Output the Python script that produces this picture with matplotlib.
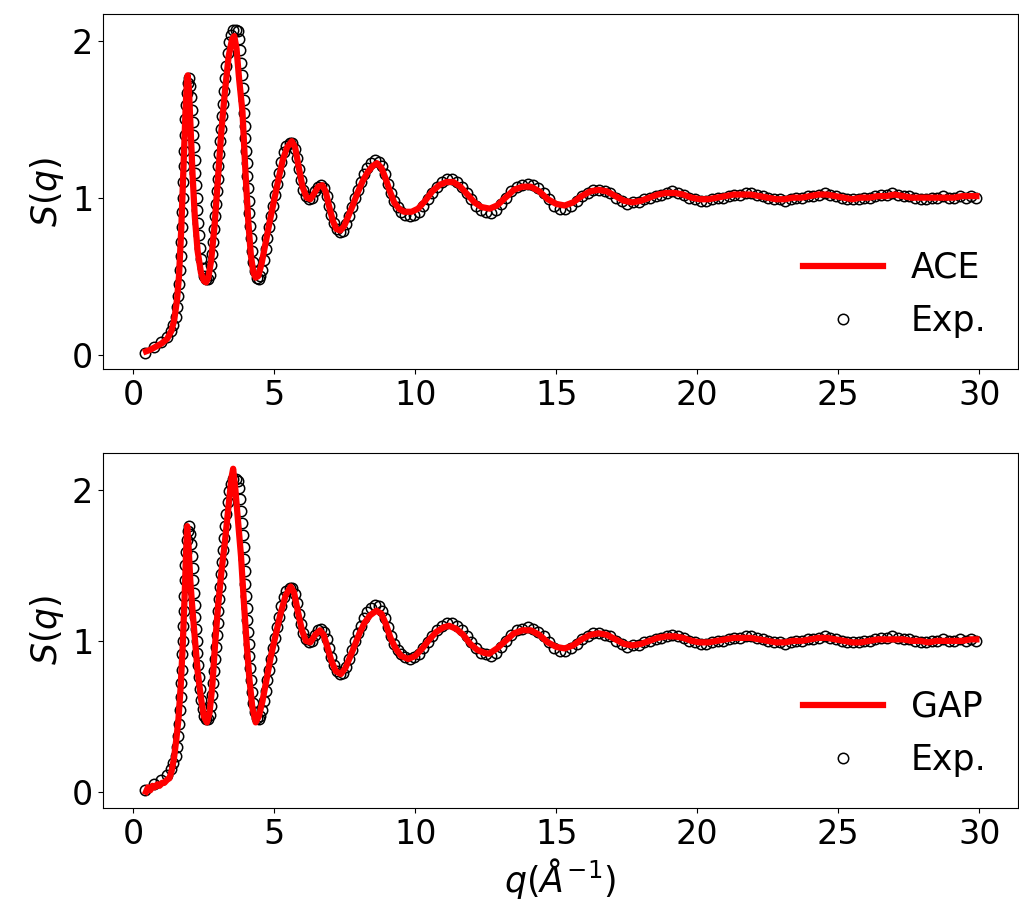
import matplotlib
matplotlib.use('Agg')
import matplotlib.pyplot as plt
import numpy as np

# Experimental S(q), digitised: (q, S)
exp_points = [
    (0.40, 0.01), (0.72, 0.05), (0.98, 0.08), (1.18, 0.11), (1.32, 0.15), (1.42, 0.19), (1.50, 0.24),
    (1.56, 0.30), (1.60, 0.37), (1.63, 0.45), (1.66, 0.54), (1.68, 0.63), (1.70, 0.72), (1.72, 0.81),
    (1.74, 0.91), (1.75, 1.00), (1.77, 1.10), (1.79, 1.20), (1.80, 1.30), (1.82, 1.40), (1.84, 1.50),
    (1.86, 1.59), (1.89, 1.67), (1.93, 1.73), (1.97, 1.76), (2.01, 1.71), (2.04, 1.64), (2.07, 1.56),
    (2.10, 1.48), (2.13, 1.40), (2.15, 1.32), (2.18, 1.24), (2.20, 1.16), (2.22, 1.08), (2.25, 1.00),
    (2.27, 0.92), (2.30, 0.84), (2.33, 0.76), (2.37, 0.68), (2.41, 0.61), (2.46, 0.55), (2.52, 0.50),
    (2.58, 0.48), (2.65, 0.48), (2.71, 0.51), (2.76, 0.57), (2.80, 0.64), (2.84, 0.72), (2.87, 0.80),
    (2.90, 0.88), (2.93, 0.96), (2.96, 1.04), (2.99, 1.12), (3.02, 1.20), (3.05, 1.28), (3.08, 1.36),
    (3.11, 1.44), (3.14, 1.52), (3.17, 1.60), (3.21, 1.68), (3.25, 1.76), (3.29, 1.84), (3.34, 1.92),
    (3.40, 1.99), (3.47, 2.04), (3.55, 2.07), (3.63, 2.07), (3.70, 2.06), (3.76, 2.01), (3.80, 1.94),
    (3.83, 1.86), (3.86, 1.78), (3.88, 1.70), (3.91, 1.62), (3.93, 1.54), (3.95, 1.46), (3.97, 1.38),
    (4.00, 1.30), (4.02, 1.22), (4.04, 1.14), (4.07, 1.06), (4.09, 0.98), (4.12, 0.90), (4.15, 0.82),
    (4.18, 0.74), (4.22, 0.66), (4.26, 0.59), (4.31, 0.53), (4.37, 0.49), (4.44, 0.48), (4.51, 0.50),
    (4.57, 0.54), (4.63, 0.60), (4.69, 0.67), (4.75, 0.74), (4.81, 0.81), (4.87, 0.88), (4.94, 0.95),
    (5.01, 1.02), (5.08, 1.09), (5.16, 1.16), (5.24, 1.23), (5.33, 1.29), (5.43, 1.33), (5.54, 1.35),
    (5.64, 1.35), (5.72, 1.31), (5.79, 1.25), (5.86, 1.18), (5.93, 1.11), (6.01, 1.05), (6.11, 1.01),
    (6.22, 0.99), (6.33, 1.00), (6.44, 1.04), (6.56, 1.07), (6.67, 1.08), (6.77, 1.06), (6.86, 1.01),
    (6.94, 0.95), (7.02, 0.89), (7.11, 0.84), (7.21, 0.80), (7.33, 0.78), (7.45, 0.79), (7.56, 0.83),
    (7.66, 0.88), (7.76, 0.94), (7.86, 1.00), (7.96, 1.05), (8.07, 1.10), (8.18, 1.15), (8.30, 1.19),
    (8.42, 1.22), (8.56, 1.24), (8.70, 1.23), (8.83, 1.20), (8.94, 1.15), (9.05, 1.09), (9.15, 1.03),
    (9.26, 0.98), (9.38, 0.94), (9.51, 0.91), (9.65, 0.89), (9.80, 0.88), (9.96, 0.89), (10.12, 0.91),
    (10.28, 0.95), (10.44, 0.99), (10.60, 1.03), (10.77, 1.07), (10.94, 1.10), (11.12, 1.12), (11.30, 1.12),
    (11.48, 1.10), (11.65, 1.07), (11.82, 1.03), (11.99, 0.99), (12.16, 0.95), (12.33, 0.92), (12.51, 0.91),
    (12.69, 0.90), (12.87, 0.92), (13.05, 0.96), (13.23, 1.00), (13.41, 1.04), (13.60, 1.07), (13.79, 1.08),
    (13.98, 1.09), (14.17, 1.08), (14.36, 1.06), (14.55, 1.03), (14.74, 0.99), (14.93, 0.95), (15.12, 0.93),
    (15.32, 0.93), (15.52, 0.95), (15.72, 0.98), (15.92, 1.01), (16.12, 1.03), (16.32, 1.05), (16.52, 1.05),
    (16.72, 1.04), (16.92, 1.03), (17.12, 1.00), (17.32, 0.98), (17.52, 0.96), (17.72, 0.97), (17.92, 0.97),
    (18.12, 0.99), (18.32, 1.00), (18.52, 1.01), (18.72, 1.02), (18.92, 1.03), (19.12, 1.04), (19.32, 1.03),
    (19.52, 1.02), (19.72, 1.00), (19.92, 0.99), (20.12, 0.98), (20.32, 0.98), (20.52, 0.99), (20.72, 1.00),
    (20.92, 1.00), (21.12, 1.01), (21.32, 1.02), (21.52, 1.02), (21.72, 1.03), (21.92, 1.03), (22.12, 1.02),
    (22.32, 1.01), (22.52, 1.00), (22.72, 0.99), (22.92, 0.99), (23.12, 0.98), (23.32, 0.99), (23.52, 1.00),
    (23.72, 1.00), (23.92, 1.01), (24.12, 1.01), (24.32, 1.02), (24.52, 1.03), (24.72, 1.02), (24.92, 1.01),
    (25.12, 1.00), (25.32, 0.99), (25.52, 0.99), (25.72, 0.99), (25.92, 1.00), (26.12, 1.00), (26.32, 1.01),
    (26.52, 1.02), (26.72, 1.02), (26.92, 1.03), (27.12, 1.02), (27.32, 1.01), (27.52, 1.01), (27.72, 1.00),
    (27.92, 0.99), (28.12, 0.99), (28.32, 1.00), (28.52, 1.00), (28.72, 1.01), (28.92, 1.00), (29.12, 1.00),
    (29.32, 1.01), (29.52, 1.00), (29.72, 1.01), (29.90, 1.00),
]

# ACE model S(q)
ace_points = [
    (0.45, 0.02), (0.60, 0.03), (0.80, 0.05), (1.00, 0.07), (1.20, 0.10), (1.35, 0.15), (1.45, 0.22),
    (1.55, 0.35), (1.62, 0.50), (1.70, 0.80), (1.78, 1.20), (1.85, 1.55), (1.90, 1.74), (1.93, 1.78),
    (1.97, 1.70), (2.03, 1.45), (2.10, 1.15), (2.18, 0.88), (2.28, 0.66), (2.40, 0.52), (2.50, 0.47),
    (2.58, 0.46), (2.66, 0.49), (2.76, 0.60), (2.88, 0.82), (3.00, 1.12), (3.12, 1.42), (3.25, 1.68),
    (3.38, 1.90), (3.50, 2.01), (3.58, 2.03), (3.66, 1.95), (3.75, 1.76), (3.87, 1.55), (3.98, 1.15),
    (4.08, 0.84), (4.17, 0.63), (4.26, 0.52), (4.34, 0.49), (4.43, 0.50), (4.55, 0.58), (4.70, 0.72),
    (4.85, 0.86), (5.00, 0.99), (5.15, 1.12), (5.30, 1.24), (5.45, 1.32), (5.62, 1.36), (5.74, 1.32),
    (5.86, 1.20), (6.00, 1.07), (6.15, 1.00), (6.28, 0.99), (6.42, 1.03), (6.56, 1.07), (6.70, 1.08),
    (6.82, 1.04), (6.95, 0.94), (7.08, 0.85), (7.20, 0.80), (7.34, 0.79), (7.48, 0.82), (7.62, 0.88),
    (7.78, 0.95), (7.95, 1.03), (8.12, 1.10), (8.30, 1.16), (8.48, 1.20), (8.64, 1.22), (8.80, 1.19),
    (8.95, 1.12), (9.10, 1.04), (9.25, 0.97), (9.42, 0.93), (9.60, 0.91), (9.87, 0.91), (10.10, 0.93),
    (10.35, 0.98), (10.60, 1.04), (10.85, 1.08), (11.10, 1.10), (11.35, 1.10), (11.60, 1.07), (11.85, 1.02),
    (12.10, 0.97), (12.35, 0.94), (12.64, 0.93), (12.90, 0.95), (13.20, 1.00), (13.50, 1.05), (13.80, 1.07),
    (14.10, 1.07), (14.40, 1.04), (14.70, 0.99), (15.00, 0.96), (15.30, 0.95), (15.60, 0.97), (15.90, 1.01),
    (16.20, 1.04), (16.50, 1.05), (16.80, 1.04), (17.10, 1.01), (17.40, 0.98), (17.70, 0.97), (18.00, 0.98),
    (18.30, 1.00), (18.60, 1.02), (18.90, 1.03), (19.20, 1.03), (19.50, 1.02), (19.80, 1.00), (20.10, 0.99),
    (20.40, 0.99), (20.70, 1.00), (21.00, 1.01), (21.30, 1.02), (21.60, 1.02), (21.90, 1.02), (22.20, 1.01),
    (22.50, 1.00), (22.80, 0.99), (23.10, 0.99), (23.40, 1.00), (23.70, 1.00), (24.00, 1.01), (24.30, 1.02),
    (24.60, 1.02), (24.90, 1.01), (25.20, 1.00), (25.50, 0.99), (25.80, 1.00), (26.10, 1.00), (26.40, 1.01),
    (26.70, 1.01), (27.00, 1.02), (27.30, 1.01), (27.60, 1.00), (27.90, 1.00), (28.20, 1.00), (28.50, 1.00),
    (28.80, 1.00), (29.10, 1.00), (29.40, 1.01), (29.70, 1.01), (29.90, 1.01),
]

# GAP model S(q)
gap_points = [
    (0.45, 0.00), (0.52, 0.03), (0.60, 0.01), (0.68, 0.04), (0.76, 0.03), (0.85, 0.05), (0.93, 0.04),
    (1.02, 0.06), (1.10, 0.06), (1.20, 0.08), (1.28, 0.09), (1.36, 0.14), (1.44, 0.22), (1.52, 0.34),
    (1.60, 0.48), (1.68, 0.70), (1.75, 0.96), (1.82, 1.30), (1.87, 1.58), (1.91, 1.76), (1.95, 1.66),
    (2.02, 1.40), (2.10, 1.20), (2.18, 1.02), (2.28, 0.80), (2.40, 0.62), (2.50, 0.50), (2.61, 0.46),
    (2.70, 0.52), (2.80, 0.70), (2.90, 0.98), (3.00, 1.22), (3.12, 1.45), (3.25, 1.66), (3.38, 1.90),
    (3.48, 2.08), (3.54, 2.14), (3.62, 2.00), (3.72, 1.78), (3.82, 1.56), (3.92, 1.26), (4.02, 0.98),
    (4.12, 0.74), (4.22, 0.56), (4.34, 0.46), (4.45, 0.50), (4.58, 0.60), (4.72, 0.74), (4.88, 0.90),
    (5.05, 1.04), (5.22, 1.18), (5.40, 1.30), (5.58, 1.36), (5.70, 1.32), (5.83, 1.20), (5.98, 1.07),
    (6.12, 1.00), (6.28, 0.99), (6.45, 1.04), (6.62, 1.07), (6.75, 1.04), (6.88, 0.96), (7.02, 0.87),
    (7.18, 0.80), (7.36, 0.78), (7.52, 0.82), (7.68, 0.89), (7.85, 0.97), (8.02, 1.05), (8.20, 1.12),
    (8.40, 1.17), (8.62, 1.20), (8.80, 1.18), (8.96, 1.11), (9.12, 1.02), (9.30, 0.95), (9.50, 0.90),
    (9.75, 0.88), (10.00, 0.90), (10.25, 0.95), (10.50, 1.01), (10.75, 1.06), (11.00, 1.09), (11.20, 1.10),
    (11.45, 1.08), (11.70, 1.04), (11.95, 0.98), (12.20, 0.94), (12.45, 0.92), (12.62, 0.915), (12.90, 0.95),
    (13.20, 1.00), (13.50, 1.05), (13.80, 1.07), (14.10, 1.07), (14.40, 1.04), (14.70, 0.99), (15.00, 0.96),
    (15.30, 0.95), (15.60, 0.97), (15.90, 1.01), (16.20, 1.04), (16.50, 1.05), (16.80, 1.04), (17.10, 1.01),
    (17.40, 0.98), (17.70, 0.97), (18.00, 0.98), (18.30, 1.00), (18.60, 1.02), (18.90, 1.03), (19.20, 1.03),
    (19.50, 1.02), (19.80, 1.00), (20.10, 0.99), (20.40, 0.99), (20.70, 1.00), (21.00, 1.01), (21.30, 1.02),
    (21.60, 1.02), (21.90, 1.02), (22.20, 1.01), (22.50, 1.00), (22.80, 0.99), (23.10, 0.99), (23.40, 1.00),
    (23.70, 1.00), (24.00, 1.01), (24.30, 1.02), (24.60, 1.02), (24.90, 1.01), (25.20, 1.00), (25.50, 0.99),
    (25.80, 0.99), (26.10, 1.00), (26.40, 1.01), (26.70, 1.01), (27.00, 1.01), (27.30, 1.01), (27.60, 1.00),
    (27.90, 1.00), (28.20, 0.99), (28.50, 1.00), (28.80, 1.00), (29.10, 1.00), (29.40, 1.00), (29.70, 1.01),
    (29.90, 1.01),
]

exp_q, exp_s = np.array(exp_points).T
ace_q, ace_s = np.array(ace_points).T
gap_q, gap_s = np.array(gap_points).T

TICK_FS = 24
LABEL_FS = 25

fig, axes = plt.subplots(2, 1, figsize=(10.2, 9.13), dpi=100)
fig.subplots_adjust(left=0.101, right=0.998, top=0.985, bottom=0.115, hspace=0.235)

for ax, (mq, ms, name) in zip(axes, [(ace_q, ace_s, 'ACE'), (gap_q, gap_s, 'GAP')]):
    ax.plot(mq, ms, color='red', lw=4.5, label=name, zorder=3)
    ax.plot(exp_q, exp_s, 'o', mfc='none', mec='black', mew=1.1, ms=7.5, label='Exp.', zorder=2)
    ax.set_ylabel(r'$S(q)$', fontsize=LABEL_FS)
    ax.tick_params(labelsize=TICK_FS)
    ax.set_xticks([0, 5, 10, 15, 20, 25, 30])
    ax.set_yticks([0, 1, 2])
    ax.legend(loc='lower right', frameon=False, fontsize=LABEL_FS,
              handlelength=2.3, labelspacing=0.55, borderaxespad=0.5)

axes[1].set_xlabel(r'$q(\AA^{-1})$', fontsize=LABEL_FS)

fig.savefig('out.png', dpi=100)
plt.close(fig)
